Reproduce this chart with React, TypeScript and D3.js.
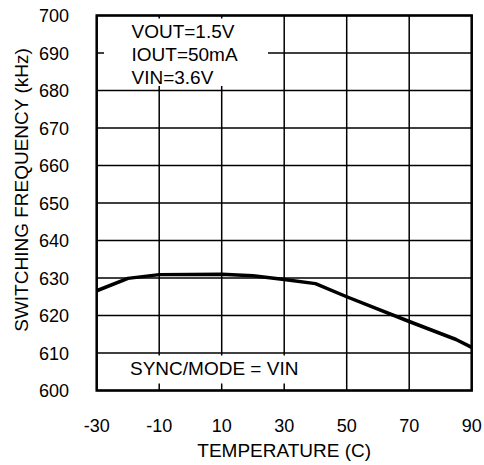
import React from "react";
import * as d3 from "d3";

const temps = [-30, -20, -10, 10, 20, 30, 40, 50, 70, 85, 90];
const freqs = [626.6, 629.9, 630.9, 631.0, 630.6, 629.6, 628.5, 625.0, 618.4, 613.6, 611.5];
const xTicks = [-30, -10, 10, 30, 50, 70, 90];
const yTicks = [600, 610, 620, 630, 640, 650, 660, 670, 680, 690, 700];
const topNotes = ["VOUT=1.5V", "IOUT=50mA", "VIN=3.6V"];
const bottomNote = "SYNC/MODE = VIN";

export default function App() {
  const W = 484, H = 465;
  const L = 96.7, R = 471.7, T = 15.5, B = 390.5;
  const x = d3.scaleLinear().domain([-30, 90]).range([L, R]);
  const y = d3.scaleLinear().domain([600, 700]).range([B, T]);
  const line = d3.line<number>().x((_, i) => x(temps[i])).y((d) => y(d));
  const font = "'Liberation Sans', Arial, Helvetica, sans-serif";
  return (
    <svg width={W} height={H} style={{ position: "absolute", left: 0, top: 0, background: "#fff" }} fontFamily={font}>
      <rect x={0} y={0} width={W} height={H} fill="#fff" />
      {xTicks.map((t) => (
        <line key={"gx" + t} x1={x(t)} x2={x(t)} y1={T} y2={B} stroke="#000" strokeWidth={1.5} />
      ))}
      {yTicks.map((t) => (
        <line key={"gy" + t} x1={L} x2={R} y1={y(t)} y2={y(t)} stroke="#000" strokeWidth={1.5} />
      ))}
      <rect x={104} y={18.5} width={164} height={67.5} fill="#fff" />
      <rect x={104} y={355.5} width={196} height={28} fill="#fff" />
      <path d={line(freqs) || ""} fill="none" stroke="#000" strokeWidth={3.5} strokeLinejoin="round" />
      <rect x={L} y={T} width={R - L} height={B - T} fill="none" stroke="#000" strokeWidth={2.5} />
      {topNotes.map((s, i) => (
        <text key={s} x={131.5} y={37.5 + i * 23} fontSize={19} fill="#000">{s}</text>
      ))}
      <text x={130} y={375} fontSize={19} fill="#000">{bottomNote}</text>
      {yTicks.map((t) => (
        <text key={"ty" + t} x={69} y={y(t) + 6.5} fontSize={18} textAnchor="end" fill="#000">{t}</text>
      ))}
      {xTicks.map((t) => (
        <text key={"tx" + t} x={x(t)} y={431.5} fontSize={18} textAnchor="middle" fill="#000">{t}</text>
      ))}
      <text x={(L + R) / 2 + 0} y={457} fontSize={19} textAnchor="middle" fill="#000">TEMPERATURE (C)</text>
      <text transform={`translate(28,190) rotate(-90)`} fontSize={19} textAnchor="middle" fill="#000">SWITCHING FREQUENCY (kHz)</text>
    </svg>
  );
}
